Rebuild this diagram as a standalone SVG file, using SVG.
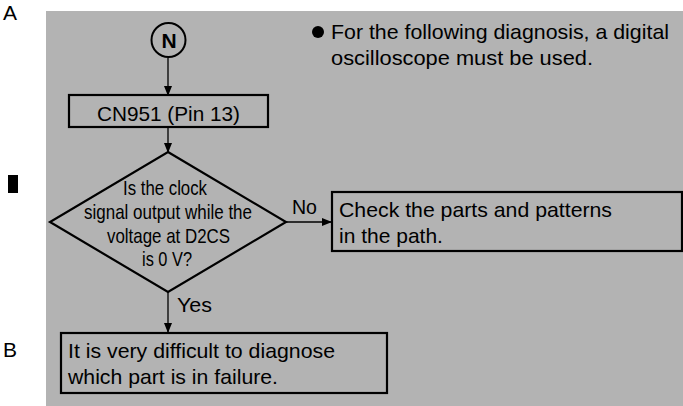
<svg xmlns="http://www.w3.org/2000/svg" width="683" height="406" viewBox="0 0 683 406">
<style>
text{font-family:"Liberation Sans",Arial,sans-serif;font-size:21px;fill:#000}
.box{fill:none;stroke:#000;stroke-width:2.2}
.ln{stroke:#000;stroke-width:1.3;fill:none}
.dt{font-size:21px;text-anchor:middle}
</style>
<defs>
<marker id="ah" markerWidth="10" markerHeight="8" refX="9" refY="4" orient="auto" markerUnits="userSpaceOnUse">
<path d="M0,0 L10,4 L0,8 Z" fill="#000"/>
</marker>
</defs>
<rect width="683" height="406" fill="#fff"/>
<rect x="46" y="11" width="637" height="395" fill="#b3b3b3"/>
<text x="3" y="20" font-size="16">A</text>
<text x="3" y="357" font-size="16">B</text>
<rect x="8" y="175" width="10" height="18" fill="#000"/>
<g id="note">
<circle cx="318" cy="32" r="6" fill="#000"/>
<text x="331" y="39" textLength="338" lengthAdjust="spacingAndGlyphs">For the following diagnosis, a digital</text>
<text x="331" y="65" textLength="262" lengthAdjust="spacingAndGlyphs">oscilloscope must be used.</text>
</g>
<g id="connectors">
<line class="ln" x1="168" y1="58" x2="168" y2="95" marker-end="url(#ah)"/>
<line class="ln" x1="168" y1="127" x2="168" y2="152" marker-end="url(#ah)"/>
<line class="ln" x1="168" y1="292" x2="168" y2="332" marker-end="url(#ah)"/>
<line class="ln" x1="285" y1="222" x2="331" y2="222" marker-end="url(#ah)"/>
<text x="177" y="312" textLength="35" lengthAdjust="spacingAndGlyphs">Yes</text>
<text x="292" y="214" textLength="25" lengthAdjust="spacingAndGlyphs">No</text>
</g>
<g id="start">
<circle cx="168.5" cy="40" r="17" fill="none" stroke="#000" stroke-width="2"/>
<text x="169" y="47.5" text-anchor="middle" font-size="22" font-weight="bold">N</text>
</g>
<g id="cn951">
<rect class="box" x="69" y="95" width="199" height="32"/>
<text x="168.5" y="121" text-anchor="middle" textLength="143" lengthAdjust="spacingAndGlyphs">CN951 (Pin 13)</text>
</g>
<g id="decision">
<polygon class="box" points="168,152 286,222 168,292 50,222"/>
<text class="dt" x="165" y="195" textLength="84" lengthAdjust="spacingAndGlyphs">Is the clock</text>
<text class="dt" x="168" y="219" textLength="168" lengthAdjust="spacingAndGlyphs">signal output while the</text>
<text class="dt" x="168.5" y="243" textLength="123" lengthAdjust="spacingAndGlyphs">voltage at D2CS</text>
<text class="dt" x="167" y="266" textLength="50" lengthAdjust="spacingAndGlyphs">is 0 V?</text>
</g>
<g id="check">
<rect class="box" x="332" y="192" width="350" height="59"/>
<text x="339" y="217" textLength="273" lengthAdjust="spacingAndGlyphs">Check the parts and patterns</text>
<text x="339" y="243">in the path.</text>
</g>
<g id="difficult">
<rect class="box" x="61" y="333" width="326" height="60"/>
<text x="68" y="358" textLength="267" lengthAdjust="spacingAndGlyphs">It is very difficult to diagnose</text>
<text x="68" y="384" textLength="210" lengthAdjust="spacingAndGlyphs">which part is in failure.</text>
</g>
</svg>
